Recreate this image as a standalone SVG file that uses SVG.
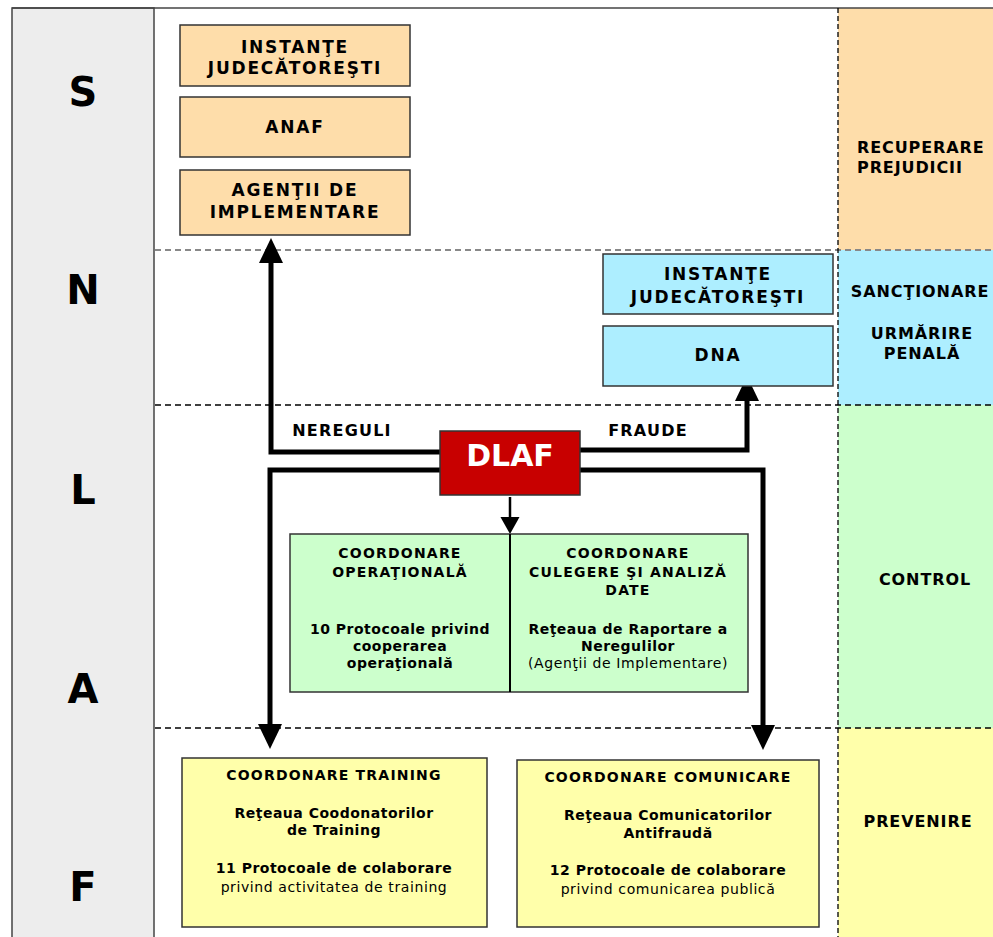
<svg xmlns="http://www.w3.org/2000/svg" width="993" height="937" viewBox="0 0 993 937">
<style>
text{font-family:"DejaVu Sans","Liberation Sans",sans-serif;fill:#000;text-anchor:middle}
.big{font-size:40px;font-weight:bold}
.t{font-size:17px;font-weight:bold;letter-spacing:1.8px}
.lab{font-size:16px;font-weight:bold;letter-spacing:0.9px}
.cap{font-size:14px;font-weight:bold;letter-spacing:1.2px}
.mix{font-size:14px;font-weight:bold;letter-spacing:0.5px}
.nrm{font-size:14px;letter-spacing:0.6px}
.flow{font-size:16px;font-weight:bold;letter-spacing:1.2px}
.box{stroke:#333;stroke-width:1.5}
.or{fill:#FEDDAA}.bl{fill:#ADEEFF}.gr{fill:#CCFFCC}.ye{fill:#FFFFAA}
.dash{stroke:#000;stroke-width:1.3;stroke-dasharray:6 4;fill:none}
.conn{stroke:#000;stroke-width:5;fill:none;stroke-linejoin:miter}
</style>
<defs>
<marker id="ah" markerUnits="userSpaceOnUse" markerWidth="26" markerHeight="26" refX="0" refY="12" orient="auto" viewBox="0 0 26 24">
<path d="M0,0 L25,12 L0,24 z" fill="#000"/>
</marker>
<marker id="ahs" markerUnits="userSpaceOnUse" markerWidth="18" markerHeight="20" refX="0" refY="9" orient="auto" viewBox="0 0 17 18">
<path d="M0,0 L16,9 L0,18 z" fill="#000"/>
</marker>
</defs>
<rect x="0" y="0" width="993" height="937" fill="#fff"/>
<!-- swimlane background -->
<g id="lanes">
<rect x="12" y="8" width="142" height="935" fill="#EDEDED" stroke="#444" stroke-width="1.5"/>
<rect x="838" y="8" width="155" height="242" class="or"/>
<rect x="838" y="250" width="155" height="155" class="bl"/>
<rect x="838" y="405" width="155" height="323" class="gr"/>
<rect x="838" y="728" width="155" height="209" class="ye"/>
<line x1="12" y1="8" x2="993" y2="8" stroke="#444" stroke-width="1.5"/>
<line x1="155" y1="250" x2="993" y2="250" stroke="#888" stroke-width="2" stroke-dasharray="6 4"/>
<line x1="155" y1="405" x2="993" y2="405" class="dash"/>
<line x1="155" y1="728" x2="993" y2="728" class="dash"/>
<line x1="838" y1="8" x2="838" y2="937" stroke="#000" stroke-width="1.3" stroke-dasharray="5 3"/>
<text class="big" x="83" y="106">S</text>
<text class="big" x="83" y="304">N</text>
<text class="big" x="83" y="504">L</text>
<text class="big" x="83" y="703">A</text>
<text class="big" x="83" y="901">F</text>
<text class="lab" x="857" y="153" style="text-anchor:start">RECUPERARE</text>
<text class="lab" x="857" y="173" style="text-anchor:start">PREJUDICII</text>
<text class="lab" x="920" y="297">SANCŢIONARE</text>
<text class="lab" x="922" y="339">URMĂRIRE</text>
<text class="lab" x="922" y="359">PENALĂ</text>
<text class="lab" x="925" y="585">CONTROL</text>
<text class="lab" x="918" y="827">PREVENIRE</text>
</g>
<!-- connectors -->
<g id="connectors">
<path class="conn" d="M441,452 H271 V263" marker-end="url(#ah)"/>
<path class="conn" d="M579,450 H747 V401" marker-end="url(#ah)"/>
<path class="conn" d="M441,470 H270 V724" marker-end="url(#ah)"/>
<path class="conn" d="M579,470 H763 V725" marker-end="url(#ah)"/>
<path d="M510,497 V517" stroke="#000" stroke-width="2.5" fill="none" marker-end="url(#ahs)"/>
<text class="flow" x="342" y="436">NEREGULI</text>
<text class="flow" x="648" y="436">FRAUDE</text>
</g>
<g id="instante1">
<rect x="180" y="25" width="230" height="61" class="box or"/>
<text class="t" x="295" y="53">INSTANŢE</text>
<text class="t" x="295" y="74">JUDECĂTOREŞTI</text>
</g>
<g id="anaf">
<rect x="180" y="97" width="230" height="60" class="box or"/>
<text class="t" x="295" y="133">ANAF</text>
</g>
<g id="agentii">
<rect x="180" y="170" width="230" height="65" class="box or"/>
<text class="t" x="295" y="196">AGENŢII DE</text>
<text class="t" x="295" y="218">IMPLEMENTARE</text>
</g>
<g id="instante2">
<rect x="603" y="254" width="230" height="60" class="box bl"/>
<text class="t" x="718" y="280">INSTANŢE</text>
<text class="t" x="718" y="303">JUDECĂTOREŞTI</text>
</g>
<g id="dna">
<rect x="603" y="326" width="230" height="60" class="box bl"/>
<text class="t" x="718" y="361">DNA</text>
</g>
<g id="dlaf">
<rect x="440" y="431" width="140" height="64" fill="#C80000" stroke="#333" stroke-width="1.5"/>
<text x="510" y="466" style="font-size:30px;font-weight:bold;fill:#fff">DLAF</text>
</g>
<g id="coordonare-op">
<rect x="290" y="534" width="458" height="158" class="box gr"/>
<line x1="510" y1="534" x2="510" y2="692" stroke="#000" stroke-width="2"/>
<text class="cap" x="400" y="558">COORDONARE</text>
<text class="cap" x="400" y="577">OPERAŢIONALĂ</text>
<text class="mix" x="400" y="634">10 Protocoale privind</text>
<text class="mix" x="400" y="651">cooperarea</text>
<text class="mix" x="400" y="668">operaţională</text>
<text class="cap" x="628" y="558">COORDONARE</text>
<text class="cap" x="628" y="577">CULEGERE ŞI ANALIZĂ</text>
<text class="cap" x="628" y="595">DATE</text>
<text class="mix" x="628" y="634">Reţeaua de Raportare a</text>
<text class="mix" x="628" y="651">Neregulilor</text>
<text class="nrm" x="628" y="668">(Agenţii de Implementare)</text>
</g>
<g id="training">
<rect x="182" y="758" width="305" height="169" class="box ye"/>
<text class="cap" x="334" y="780">COORDONARE TRAINING</text>
<text class="mix" x="334" y="818">Reţeaua Coodonatorilor</text>
<text class="mix" x="334" y="835">de Training</text>
<text class="mix" x="334" y="873">11 Protocoale de colaborare</text>
<text class="nrm" x="334" y="892">privind activitatea de training</text>
</g>
<g id="comunicare">
<rect x="517" y="760" width="302" height="167" class="box ye"/>
<text class="cap" x="668" y="782">COORDONARE COMUNICARE</text>
<text class="mix" x="668" y="820">Reţeaua Comunicatorilor</text>
<text class="mix" x="668" y="838">Antifraudă</text>
<text class="mix" x="668" y="875">12 Protocoale de colaborare</text>
<text class="nrm" x="668" y="894">privind comunicarea publică</text>
</g>
</svg>
